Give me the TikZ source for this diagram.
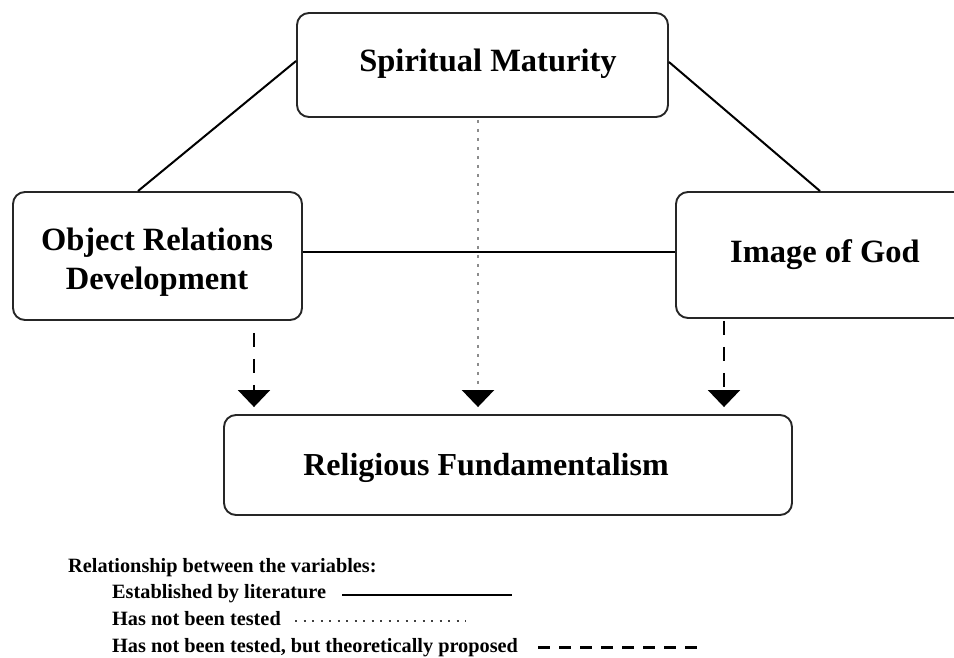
\documentclass[tikz,border=0pt]{standalone}
\usepackage{fontspec}
\setmainfont{Liberation Serif}
\usetikzlibrary{arrows.meta}
\begin{document}
\begin{tikzpicture}[x=1pt,y=-1pt,
  box/.style={draw=black!85,line width=1.9pt,rounded corners=12pt,inner sep=0pt,fill=white},
  boxtext/.style={font=\fontsize{32.5}{39}\selectfont\bfseries,inner sep=0pt,align=center},
  legtext/.style={font=\fontsize{20.3}{24}\selectfont\bfseries,inner sep=0pt,anchor=base west},
  established/.style={line width=2pt,black},
  untested/.style={line width=2.4pt,black!45,dash pattern=on 3pt off 6pt,-{Triangle[width=32pt,length=17pt,color=black]}},
  proposed/.style={line width=2.2pt,black,dash pattern=on 14pt off 12pt,-{Triangle[width=32pt,length=17pt]}}
]
\useasboundingbox (0,0) rectangle (954,658);
\clip (0,0) rectangle (954,658);

% boxes
\node[box,minimum width=371pt,minimum height=104pt] (sm)  at (482.5,65) {};
\node[box,minimum width=289pt,minimum height=128pt] (ord) at (157.5,256) {};
\node[box,minimum width=314pt,minimum height=126pt] (iog) at (833,255) {};
\node[box,minimum width=568pt,minimum height=100pt] (rf)  at (508,465) {};

% texts
\node[boxtext,anchor=base] (smt)  at (488,72)  {Spiritual Maturity};
\node[boxtext,anchor=center] (ordt) at (157,262) {Object Relations\\Development};
\node[boxtext,anchor=base] (iogt) at (825,262) {Image of God};
\node[boxtext,anchor=base,font=\fontsize{32}{38}\selectfont\bfseries] (rft) at (486,475) {Religious Fundamentalism};

% established connectors
\draw[established] ([xshift=-19.5pt]ord.north) -- ([yshift=4pt]sm.west);
\draw[established] ([yshift=3pt]sm.east) -- ([xshift=-13pt]iog.north);
\draw[established] ([yshift=4pt]ord.east) -- ([yshift=4pt]ord.east -| iog.west);

% arrows to Religious Fundamentalism
\coordinate (aL) at (254,0);
\coordinate (aM) at (478,0);
\coordinate (aR) at (724,0);
\draw[proposed,shorten <=12pt,shorten >=7pt] (aL |- ord.south) -- (aL |- rf.north);
\draw[untested,shorten <=2pt,shorten >=7pt] (aM |- sm.south) -- (aM |- rf.north);
\draw[proposed,shorten <=2pt,shorten >=7pt] (aR |- iog.south) -- (aR |- rf.north);

% legend
\node[legtext] (lg0) at (68,572) {Relationship between the variables:};
\node[legtext] (lg1) at (112,598) {Established by literature};
\node[legtext] (lg2) at (112,625) {Has not been tested};
\node[legtext] (lg3) at (112,652) {Has not been tested, but theoretically proposed};
\coordinate (s1a) at (342,595); \coordinate (s1b) at (512,595);
\coordinate (s2a) at (295,621); \coordinate (s2b) at (466,621);
\coordinate (s3a) at (538,647); \coordinate (s3b) at (700,647);
\draw[line width=2.6pt,black] (s1a) -- (s1b);
\draw[line width=2pt,black!75,dash pattern=on 2.2pt off 6.3pt] (s2a) -- (s2b);
\draw[line width=3pt,black,dash pattern=on 12pt off 9pt] (s3a) -- (s3b);
\end{tikzpicture}
\end{document}
